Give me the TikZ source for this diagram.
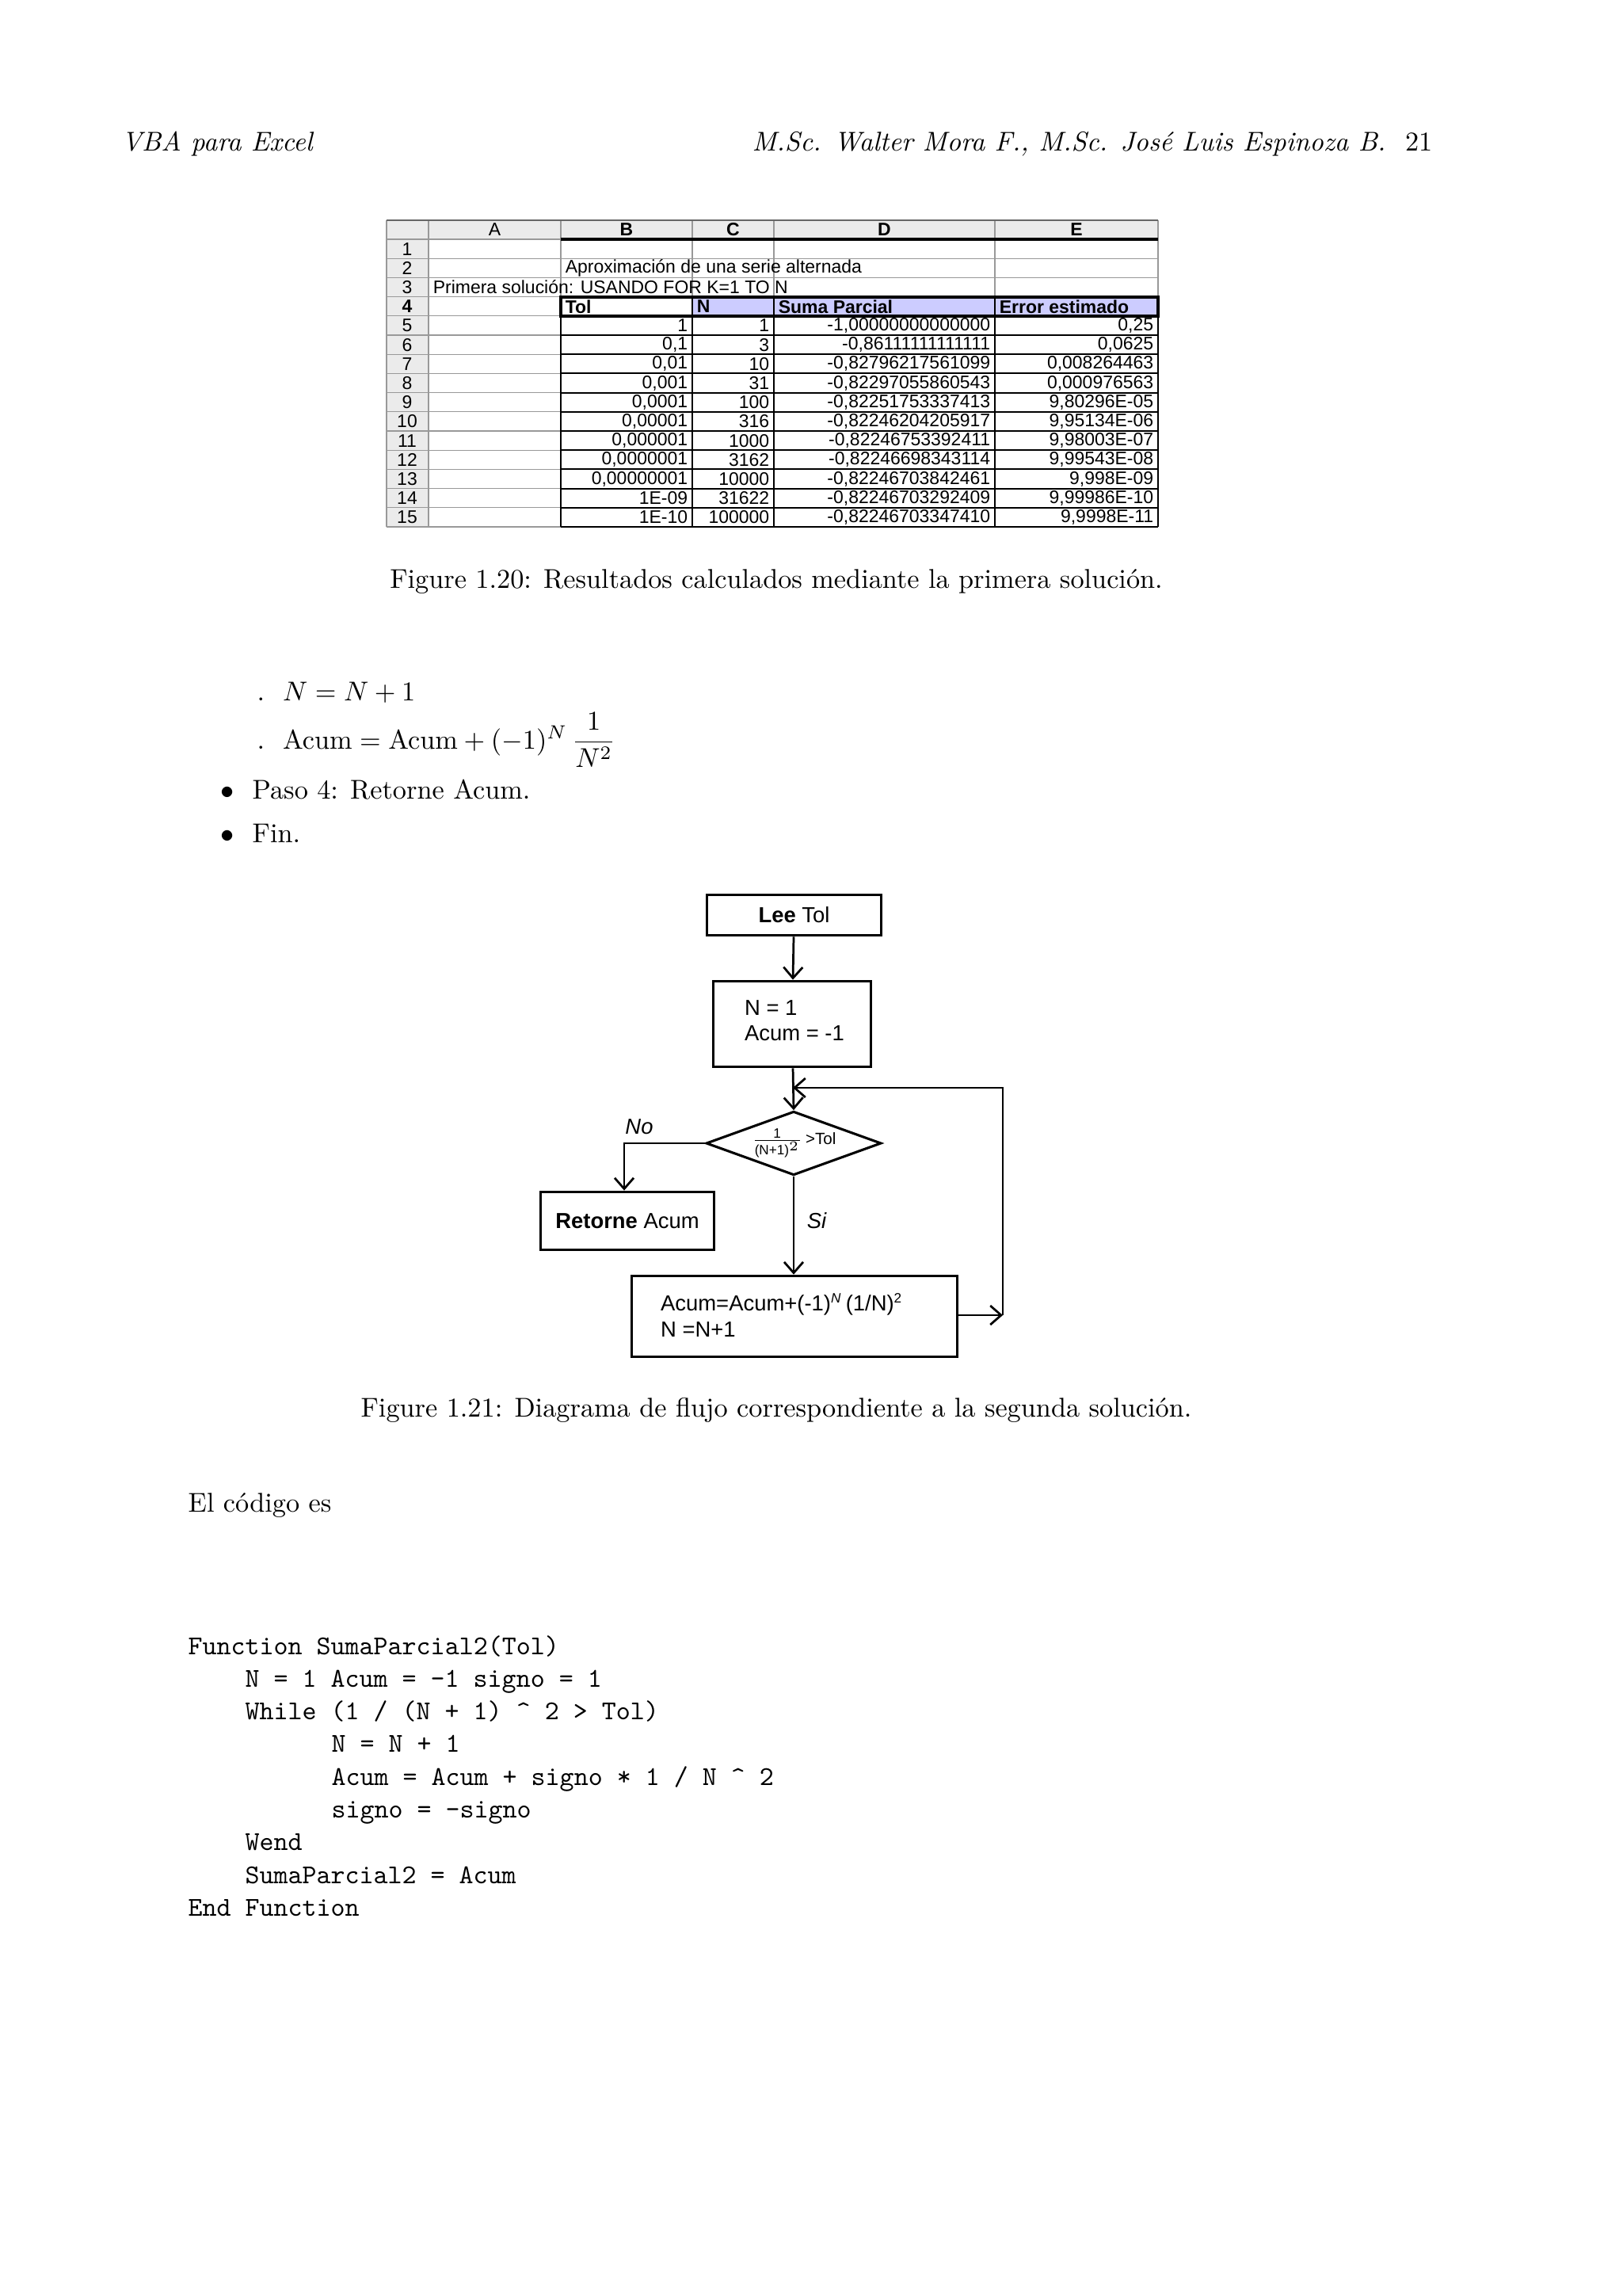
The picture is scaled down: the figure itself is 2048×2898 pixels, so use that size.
\documentclass[tikz,border=0pt]{standalone}
\usepackage{fontspec}
\usepackage{amsmath}
\newfontfamily\arial{Liberation Sans}
\usetikzlibrary{arrows.meta,shapes.geometric}
\begin{document}
\begin{tikzpicture}[x=0.1025mm,y=-0.1025mm,
  fbox/.style={draw,line width=0.9pt,inner sep=0pt},
  arr/.style={line width=0.8pt,-{Straight Barb[length=4pt,width=7pt]}},
  flab/.style={font=\arial\fontsize{8}{9.5}\selectfont,align=left},
  cell/.style={font=\arial\fontsize{6.7}{7}\selectfont,inner sep=1.5pt},
  txt/.style={anchor=base west,inner sep=0pt},
  codel/.style={anchor=base west,inner sep=0pt,font=\ttfamily\fontsize{10}{12}\selectfont}]
\useasboundingbox (0,0) rectangle (2048,2898);
\fill[white] (0,0) rectangle (2048,2898);
% header
\node[txt,font=\itshape] (h1) at (153,190) {VBA para Excel};
\node[txt,anchor=base east,font=\itshape] (h2) at (1809,190) {M.Sc. Walter Mora F., M.Sc. Jos\'e Luis Espinoza B.\ \ \upshape 21};
% spreadsheet
\fill[black!8] (488,278) rectangle (1462,302);
\fill[black!8] (488,302) rectangle (541,665);
\fill[blue!20] (874,375) rectangle (1462,399);
\foreach \x in {488,541,708,874,977,1256,1462} \draw[black!40,line width=0.4pt] (\x,278) -- (\x,665);
\foreach \i in {0,...,15} \draw[black!40,line width=0.4pt] (488,{302+24.2*\i}) -- (1462,{302+24.2*\i});
\draw[black!60,line width=0.4pt] (488,278) -- (1462,278);
\draw[line width=1.2pt] (708,302) -- (1462,302);
\foreach \x in {708,874,977,1256,1462} \draw[line width=0.6pt] (\x,375) -- (\x,665);
\foreach \i in {4,...,15} \draw[line width=0.6pt] (708,{302+24.2*\i}) -- (1462,{302+24.2*\i});
\draw[line width=1.3pt] (708,375) rectangle (1462,399);
\node[cell] (cA) at (624.5,290) {A};
\node[cell] (cB) at (791,290) {\bfseries B};
\node[cell] (cC) at (925.5,290) {\bfseries C};
\node[cell] (cD) at (1116.5,290) {\bfseries D};
\node[cell] (cE) at (1359,290) {\bfseries E};
\foreach \i in {1,...,15} \node[cell] (r\i) at (514,{290+24.2*\i}) {\ifnum\i=4 \bfseries\fi\i};
\node[cell,anchor=west] (t2) at (708,{290+24.2*2}) {Aproximación de una serie alternada};
\node[cell,anchor=west] (t3) at (541,{290+24.2*3}) {Primera solución: USANDO FOR K=1 TO N};
\node[cell,anchor=west,font=\arial\bfseries\fontsize{6.7}{7}\selectfont] (hb) at (708,387) {Tol};
\node[cell,anchor=west,font=\arial\bfseries\fontsize{6.7}{7}\selectfont] (hc) at (874,387) {N};
\node[cell,anchor=west,font=\arial\bfseries\fontsize{6.7}{7}\selectfont] (hd) at (977,387) {Suma Parcial};
\node[cell,anchor=west,font=\arial\bfseries\fontsize{6.7}{7}\selectfont] (he) at (1256,387) {Error estimado};
\foreach \i/\b/\c/\d/\e in {5/1/1/{-1,00000000000000}/{0,25},
 6/{0,1}/3/{-0,86111111111111}/{0,0625},
 7/{0,01}/10/{-0,82796217561099}/{0,008264463},
 8/{0,001}/31/{-0,82297055860543}/{0,000976563},
 9/{0,0001}/100/{-0,82251753337413}/{9,80296E-05},
 10/{0,00001}/316/{-0,82246204205917}/{9,95134E-06},
 11/{0,000001}/1000/{-0,82246753392411}/{9,98003E-07},
 12/{0,0000001}/3162/{-0,82246698343114}/{9,99543E-08},
 13/{0,00000001}/10000/{-0,82246703842461}/{9,998E-09},
 14/1E-09/31622/{-0,82246703292409}/{9,99986E-10},
 15/1E-10/100000/{-0,82246703347410}/{9,9998E-11}}{
 \node[cell,anchor=east] (b\i) at (874,{290+24.2*\i}) {\b};
 \node[cell,anchor=east] (cc\i) at (977,{290+24.2*\i}) {\c};
 \node[cell,anchor=east] (d\i) at (1256,{290+24.2*\i}) {\d};
 \node[cell,anchor=east] (e\i) at (1462,{290+24.2*\i}) {\e};}
\node (cap1) at (980,734) {Figure 1.20: Resultados calculados mediante la primera soluci\'on.};
% text
\node[txt] (l1) at (324,884) {.\ \ $N=N+1$};
\node[txt] (l2) at (324,945) {.\ \ $\text{Acum}=\text{Acum}+(-1)^N\,\dfrac{1}{N^2}$};
\node[txt] (l3) at (278,1008) {$\bullet$\ \ Paso 4: Retorne Acum.};
\node[txt] (l4) at (278,1063) {$\bullet$\ \ Fin.};
% flowchart
\node[fbox,minimum width=64.2pt,minimum height=15.1pt,flab] (lee) at (1002.5,1155) {\textbf{Lee} Tol};
\node[fbox,minimum width=58.1pt,minimum height=31.7pt] (ini) at (1000,1292.5) {};
\node[flab,anchor=west] (initxt) at (928,1288) {N = 1\\Acum = -1};
\node[diamond,draw,line width=0.9pt,aspect=2.74,minimum width=64.5pt,minimum height=23.5pt,inner sep=0pt] (dec) at (1002,1443) {};
\node[flab,font=\arial\fontsize{6}{6}\selectfont] (frac) at (1002,1443) {$\frac{\text{1}}{\text{(N+1)}^{\scriptscriptstyle 2}}$\,>Tol};
\node[fbox,minimum width=63.9pt,minimum height=21.5pt,flab] (ret) at (792,1541) {\textbf{Retorne} Acum};
\node[fbox,minimum width=119.7pt,minimum height=29.9pt] (upd) at (1003,1661.5) {};
\node[flab,anchor=west] (updtxt) at (822,1660) {Acum=Acum+(-1)$^{\text{\tiny\itshape N}}$\,(1/N)$^{\text{\tiny 2}}$\\N =N+1};
\node[flab,font=\arial\itshape\fontsize{8}{9}\selectfont] (no) at (807,1422) {No};
\node[flab,font=\arial\itshape\fontsize{8}{9}\selectfont] (si) at (1031,1541) {Si};
\coordinate (tr) at (1266,1373);
\coordinate (br) at (1266,1660);
\coordinate (lj) at (1001,1373);
\draw[arr] (lee) -- (ini);
\draw[arr] (ini) -- (dec.north);
\draw[arr] (dec.south) -- (upd.north -| dec.south);
\draw[arr] (dec.west) -| (ret.north -| 788,0);
\draw[arr] (upd.east |- br) -- (br);
\draw[arr] (br) -- (tr) -- (lj);
\node (cap2) at (980,1780) {Figure 1.21: Diagrama de flujo correspondiente a la segunda soluci\'on.};
\node[txt] (elc) at (237,1908) {El c\'odigo es};
% code
\foreach \i/\xx/\s in {0/237/{Function SumaParcial2(Tol)},
 1/309/{N = 1 Acum = -1 signo = 1},
 2/309/{While (1 / (N + 1) \^{} 2 > Tol)},
 3/418/{N = N + 1},
 4/418/{Acum = Acum + signo * 1 / N \^{} 2},
 5/418/{signo = -signo},
 6/309/{Wend},
 7/309/{SumaParcial2 = Acum},
 8/237/{End Function}}
 \node[codel] (code\i) at (\xx,{2088+41.3*\i}) {\s};
\end{tikzpicture}
\end{document}
